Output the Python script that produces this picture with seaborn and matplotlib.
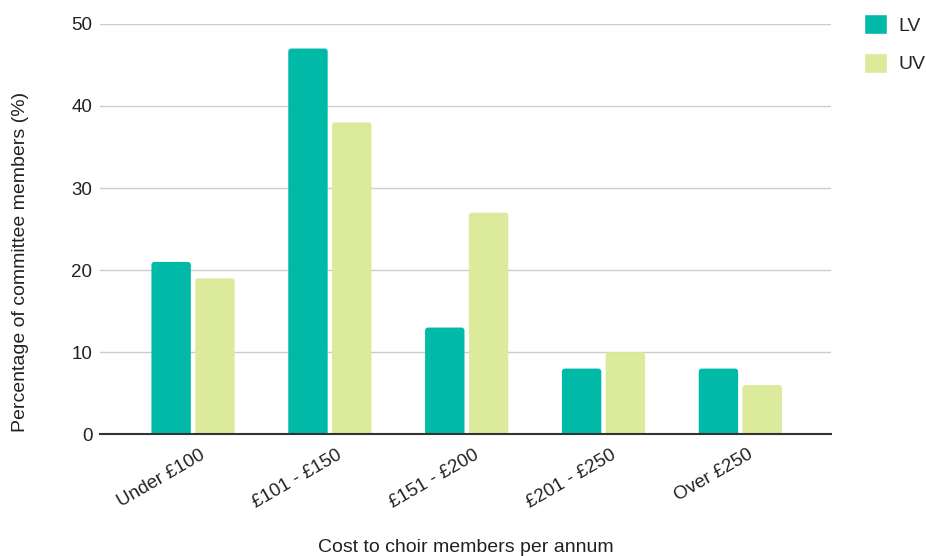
import matplotlib
matplotlib.use("Agg")
import matplotlib.pyplot as plt
import matplotlib.transforms as mtransforms
from matplotlib.patches import FancyBboxPatch
import seaborn as sns
import pandas as pd

categories = ["Under £100", "£101 - £150", "£151 - £200", "£201 - £250", "Over £250"]
lv_values = [21, 47, 13, 8, 8]
uv_values = [19, 38, 27, 10, 6]
series_names = ["LV", "UV"]
y_ticks = [0, 10, 20, 30, 40, 50]

df = pd.DataFrame({
    "category": categories * 2,
    "value": lv_values + uv_values,
    "series": [series_names[0]] * len(categories) + [series_names[1]] * len(categories),
})

sns.set_theme(style="white")
plt.rcParams["font.family"] = ["Liberation Sans", "DejaVu Sans"]

fig = plt.figure(figsize=(9.26, 5.56), dpi=100)
ax = fig.add_axes([0.108, 0.219, 0.789, 0.738])

palette = {"LV": "#00B9A6", "UV": "#DCEA9B"}
sns.barplot(data=df, x="category", y="value", hue="series", palette=palette,
            width=0.64, gap=0.1, saturation=1, ax=ax, legend=True)

ax.set_xlim(-0.68, 4.66)
ax.set_ylim(0, 50)
ax.set_yticks(y_ticks)

# give the bars softly rounded tops
xpx = ax.get_position().width * fig.get_figwidth() * fig.dpi / (4.66 + 0.68)
ypx = ax.get_position().height * fig.get_figheight() * fig.dpi / 50
r = 3.0 / xpx
aspect = xpx / ypx
for bar in list(ax.patches):
    x0, y0 = bar.get_x(), bar.get_y()
    w, h = bar.get_width(), bar.get_height()
    if w == 0 or h == 0:
        continue
    extra = r * aspect
    rounded = FancyBboxPatch((x0, y0 - extra), w, h + extra,
                             boxstyle=f"round,pad=0,rounding_size={r}",
                             mutation_aspect=aspect,
                             facecolor=bar.get_facecolor(), edgecolor="none",
                             zorder=bar.get_zorder())
    bar.set_visible(False)
    ax.add_patch(rounded)

ax.yaxis.grid(True, color="#cccccc", linewidth=1)
ax.set_axisbelow(True)
for s in ["top", "right", "left"]:
    ax.spines[s].set_visible(False)
ax.spines["bottom"].set_color("#333333")
ax.spines["bottom"].set_linewidth(1.5)
ax.spines["bottom"].set_zorder(5)
ax.tick_params(axis="both", length=0, labelsize=13.5, colors="#222222")
ax.tick_params(axis="y", pad=5.5)
ax.tick_params(axis="x", pad=14)
offset = mtransforms.ScaledTranslation(0.11, 0, fig.dpi_scale_trans)
for lbl in ax.get_xticklabels():
    lbl.set_rotation(30)
    lbl.set_ha("right")
    lbl.set_va("center")
    lbl.set_rotation_mode("anchor")
    lbl.set_transform(lbl.get_transform() + offset)

ax.set_xlabel("Cost to choir members per annum", fontsize=14, color="#222222", labelpad=20)
ax.set_ylabel("Percentage of committee members (%)", fontsize=14, color="#222222")
ax.yaxis.set_label_coords(-80 / 731, 0.42)
ax.yaxis.label.set_va("center")

handles, labels = ax.get_legend_handles_labels()
ax.legend(handles, labels, loc="upper left", bbox_to_anchor=(0.923, 0.992),
          bbox_transform=fig.transFigure, frameon=False, fontsize=14, borderpad=0,
          handlelength=1.18, handleheight=1.18, handletextpad=0.55, labelspacing=0.95)

fig.savefig("out.png", dpi=100)
